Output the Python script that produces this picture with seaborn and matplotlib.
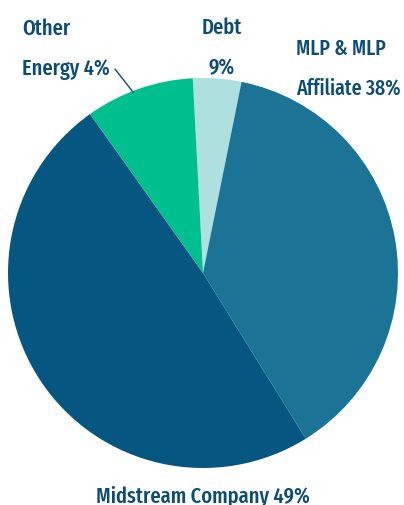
import matplotlib.pyplot as plt
import seaborn as sns

# slice order: clockwise from just left of 12 o'clock
categories = ["Debt", "MLP & MLP Affiliate", "Midstream Company", "Other Energy"]
values = [4, 38, 49, 9]
colors = ["#ade0de", "#1b7495", "#055782", "#00bf8f"]

# label lines as printed on the chart
other_lines = ["Other", "Energy 4%"]
debt_lines = ["Debt", "9%"]
mlp_lines = ["MLP & MLP", "Affiliate 38%"]
midstream_lines = ["Midstream Company 49%"]

sns.set_theme(style="white")
plt.rcParams["font.family"] = ["Fira Sans Extra Condensed", "DejaVu Sans"]

text_color = "#0b4d75"
W, H = 404, 506

fig = plt.figure(figsize=(W / 100, H / 100), dpi=100)
# square axes so the pie sits where it does in the reference
ax = fig.add_axes([8 / W, 1 - 469 / H, 390 / W, 390 / H])
ax.pie(
    values,
    colors=colors,
    startangle=93,
    counterclock=False,
    wedgeprops={"linewidth": 0},
)
ax.set_xlim(-1, 1)
ax.set_ylim(-1, 1)
ax.set_aspect("equal")
ax.axis("off")

kw = dict(color=text_color, fontsize=16, fontweight=500, va="baseline")


def put(lines, x, y0, ha, step=40, size=16):
    for i, line in enumerate(lines):
        fig.text(x / W, 1 - (y0 + i * step) / H, line, ha=ha, **{**kw, "fontsize": size})


put(other_lines, 22, 35, "left")
put(debt_lines, 222, 34, "center")
put(mlp_lines, 296, 55, "left", size=15.5)
put(midstream_lines, 203, 502, "center")

# leader line for "Other Energy"
fig.add_artist(plt.Line2D([115 / W, 133 / W], [1 - 70 / H, 1 - 93 / H],
                          color=text_color, linewidth=1.0))

fig.savefig("out.png", dpi=100)
